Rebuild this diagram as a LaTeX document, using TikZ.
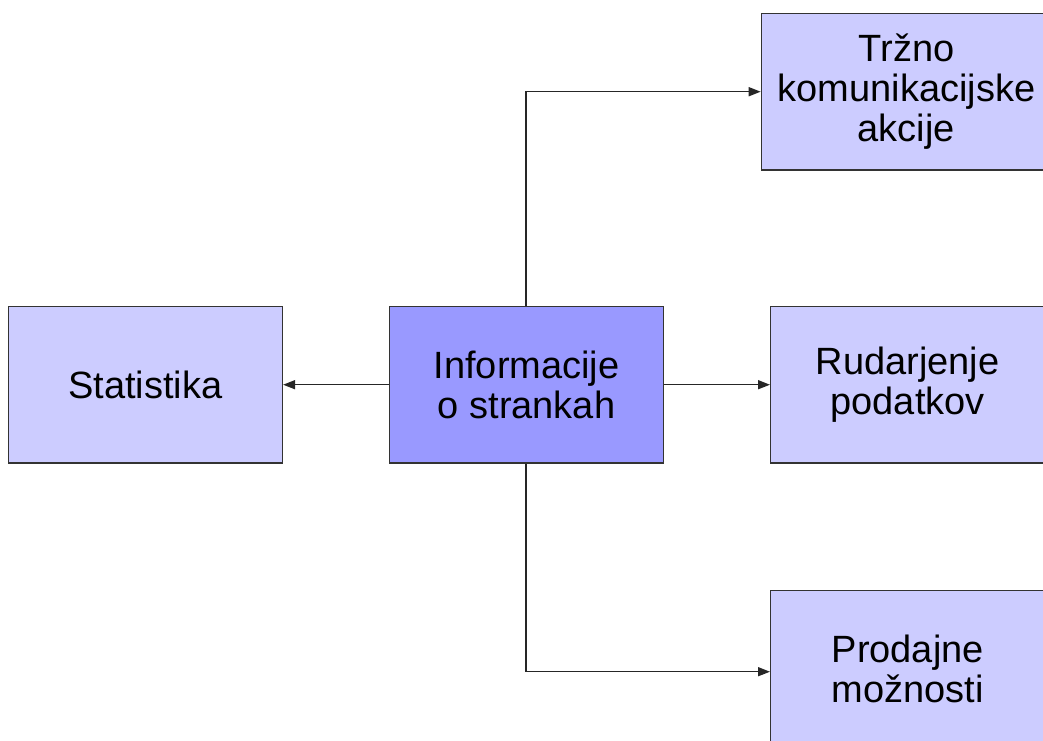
\documentclass[tikz,border=0pt]{standalone}
\usepackage{fontspec}
\setmainfont{Liberation Sans}
\usetikzlibrary{arrows.meta}
\definecolor{boxlight}{HTML}{CCCCFF}
\definecolor{boxdark}{HTML}{9999FF}
\begin{document}
\begin{tikzpicture}[x=1pt,y=-1pt,
  box/.style={draw=black!80, line width=1.4pt, fill=boxlight,
    minimum width=274pt, minimum height=156.6pt, inner sep=0pt,
    anchor=north west, align=center,
    font=\fontsize{38}{40}\selectfont},
  link/.style={draw=black!85, line width=1.5pt,
    -{Triangle[length=12pt,width=9pt]}}]
  \useasboundingbox (0,0) rectangle (1043,740);
  \clip (0,0) rectangle (1043,740);

  % boxes
  \node[box, minimum width=290pt] (mkt) at (760.7,12.7) {Tržno\\komunikacijske\\akcije};
  \node[box] (stat) at (7.7,305.7) {Statistika};
  \node[box, fill=boxdark, minimum width=273.7pt] (info) at (389,305.7) {Informacije\\o strankah};
  \node[box] (mine) at (770,305.7) {Rudarjenje\\podatkov};
  \node[box] (sale) at (770,589.7) {Prodajne\\možnosti};

  % connectors
  \draw[link] (info.west) -- (stat.east);
  \draw[link] (info.east) -- (mine.east -| mine.west);
  \draw[link] (info.north -| 526,0) |- (mkt.west);
  \draw[link] (info.south -| 526,0) |- ([yshift=-3pt]sale.west);
\end{tikzpicture}
\end{document}
